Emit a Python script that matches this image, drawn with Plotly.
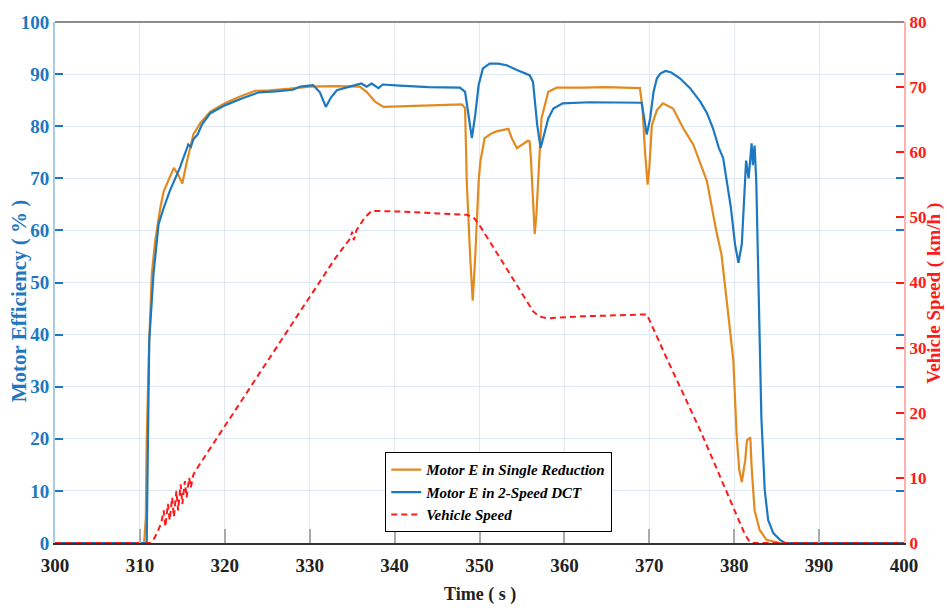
import plotly.graph_objects as go

# ---------------- data ----------------
t_single = [300, 310.5, 310.7, 310.8, 311.1, 311.4, 311.8, 312.4, 312.8, 313.5, 314.0, 314.5, 315.0,
            315.5, 316.3, 317.1, 318.3, 320.0, 321.8, 323.6, 325.3, 327.7, 330.0, 332.8, 335.9,
            336.7, 337.7, 338.7, 341.0, 344.6, 347.9, 348.3, 348.5, 348.9, 349.2, 349.5, 349.9,
            350.1, 350.6, 351.4, 352.0, 353.4, 353.8, 354.4, 355.0, 355.7, 355.9, 356.05, 356.3,
            356.5, 356.7, 356.9, 357.3, 358.1, 359.1, 362.0, 365.0, 368.9, 369.2, 369.5, 369.8,
            370.0, 370.3, 370.9, 371.6, 372.8, 374.0, 375.2, 376.4, 376.8, 377.9, 378.5, 379.3,
            379.9, 380.3, 380.6, 380.9, 381.3, 381.5, 381.9, 382.05, 382.4, 383.0, 383.8, 385.4, 400]
e_single = [0, 0, 5, 19.7, 38.8, 51.6, 58.0, 64.3, 67.5, 70.0, 72.0, 70.7, 69.0,
            73.0, 78.4, 80.6, 82.8, 84.4, 85.7, 86.8, 86.9, 87.2, 87.6, 87.7, 87.6,
            86.6, 84.7, 83.7, 83.8, 84.1, 84.2, 83.5, 69.4, 55.0, 46.5, 55.0, 69.4,
            73.2, 77.7, 78.6, 79.0, 79.5, 77.7, 75.8, 76.4, 77.2, 77.1, 74.0, 66.0,
            59.3, 63.0, 69.4, 81.5, 86.6, 87.4, 87.4, 87.5, 87.3, 83.4, 75.0, 68.8,
            72.0, 80.2, 83.1, 84.4, 83.4, 79.6, 76.4, 71.3, 69.4, 59.8, 55.4, 43.9,
            35.0, 20.3, 14.0, 11.7, 15.9, 19.7, 20.3, 14.6, 6.3, 2.5, 0.6, 0, 0]

t_dct = [300, 310.8, 310.95, 311.1, 311.6, 312.2, 312.8, 313.5, 314.7, 315.3, 315.7, 316.0,
         316.3, 316.8, 317.3, 318.3, 320.0, 322.0, 324.0, 326.0, 328.0, 328.9, 330.4, 331.2,
         331.9, 332.5, 333.2, 334.7, 336.1, 336.7, 337.3, 338.1, 338.6, 340.6, 344.0, 347.7,
         348.3, 348.7, 349.1, 349.5, 349.9, 350.4, 351.2, 352.2, 353.2, 354.4, 355.9, 356.3,
         356.8, 357.2, 357.5, 358.1, 358.7, 359.8, 363.0, 366.0, 369.1, 369.4, 369.7, 370.1,
         370.5, 370.9, 371.3, 371.9, 372.6, 373.6, 374.8, 376.0, 376.8, 377.5, 378.2, 378.7,
         379.1, 379.6, 380.1, 380.5, 380.9, 381.2, 381.4, 381.7, 382.05, 382.2, 382.4, 382.6,
         382.8, 383.0, 383.2, 383.6, 384.0, 384.6, 385.4, 386.0, 400]
e_dct = [0, 0, 19.7, 38.8, 51.6, 61.2, 64.3, 67.5, 72.0, 74.5, 76.5, 76.0,
         77.5, 78.4, 80.3, 82.5, 84.0, 85.3, 86.5, 86.7, 87.0, 87.6, 87.9, 86.5,
         83.7, 85.5, 86.9, 87.6, 88.2, 87.6, 88.2, 87.3, 88.0, 87.8, 87.5, 87.4,
         86.6, 82.2, 77.7, 82.2, 87.9, 91.1, 92.0, 92.0, 91.7, 90.8, 89.8, 88.5,
         80.2, 75.8, 77.7, 81.5, 83.4, 84.4, 84.6, 84.5, 84.5, 81.5, 78.4, 81.5,
         86.6, 89.2, 90.1, 90.6, 90.3, 89.2, 87.3, 84.7, 82.5, 79.6, 75.8, 73.9,
         69.4, 64.5, 57.3, 53.8, 57.4, 65.6, 73.4, 70.0, 76.7, 72.5, 76.3, 69.4,
         56.0, 36.9, 24.1, 10.1, 4.4, 1.9, 0.6, 0, 0]

t_speed = [300, 311.2, 311.6, 312.0, 312.5, 312.8, 313.0, 313.3, 313.5, 313.8, 314.0, 314.3,
           314.5, 314.8, 315.0, 315.3, 315.5, 315.8, 316.0, 316.3, 317.0, 319.4, 325.0, 328.9,
           333.0, 334.8, 335.0, 335.2, 335.5, 336.5, 337.3, 338.5, 340.6, 345.0, 348.5, 349.3,
           349.9, 352.4, 356.3, 357.0, 358.0, 362.0, 366.0, 369.7, 370.1, 372.0, 376.0, 381.2,
           381.8, 382.0, 400]
v_speed = [0, 0, 0.5, 1.5, 3.0, 5.0, 2.5, 6.0, 3.5, 7.0, 4.0, 8.0,
           5.0, 9.0, 6.0, 9.5, 7.0, 10.0, 8.5, 10.5, 12.0, 16.8, 27.9, 35.6,
           43.7, 46.8, 47.8, 46.5, 48.0, 50.0, 51.0, 51.0, 50.9, 50.6, 50.4, 50.0,
           49.0, 43.8, 35.6, 34.8, 34.5, 34.8, 35.0, 35.1, 34.0, 28.5, 17.3, 1.5,
           0.2, 0, 0]

x_ticks = [300, 310, 320, 330, 340, 350, 360, 370, 380, 390, 400]
eff_ticks = [0, 10, 20, 30, 40, 50, 60, 70, 80, 90, 100]
speed_ticks = [0, 10, 20, 30, 40, 50, 60, 70, 80]

# ---------------- style ----------------
ORANGE = "#E38A1E"
BLUE = "#1C78C0"
RED = "#FF1A1A"
SERIF = "Liberation Serif"

fig = go.Figure()
fig.add_trace(go.Scatter(x=t_single, y=e_single, mode="lines", name="Motor E in Single Reduction",
                         line=dict(color=ORANGE, width=2.2)))
fig.add_trace(go.Scatter(x=t_dct, y=e_dct, mode="lines", name="Motor E in 2-Speed DCT",
                         line=dict(color=BLUE, width=2.2)))
fig.add_trace(go.Scatter(x=t_speed, y=v_speed, mode="lines", name="Vehicle Speed", yaxis="y2",
                         line=dict(color=RED, width=2, dash="6px,4px")))

fig.update_layout(
    width=947, height=608,
    margin=dict(l=55, r=43, t=20, b=65),
    paper_bgcolor="white", plot_bgcolor="white",
    showlegend=True,
    legend=dict(x=0.389, y=0.174, xanchor="left", yanchor="top",
                bgcolor="white", bordercolor="black", borderwidth=1,
                font=dict(family=SERIF, size=15, color="black", style="italic", weight="bold"),
                tracegroupgap=0, itemwidth=30),
    xaxis=dict(range=[300, 400], tickvals=x_ticks, showgrid=True, gridcolor="#e3e8ef", gridwidth=1,
               ticks="inside", ticklen=14, tickcolor="#aaaaaa", tickwidth=1.5,
               showline=True, linecolor="#333333", linewidth=2, zeroline=False,
               ticklabelstandoff=4,
               tickfont=dict(family=SERIF, size=19, color="#222222", weight="bold")),
    yaxis=dict(range=[0, 100], tickvals=eff_ticks, showgrid=True, gridcolor="#dde9f5", gridwidth=1,
               ticks="inside", ticklen=8, tickcolor=BLUE, tickwidth=1.5, mirror="ticks",
               showline=True, linecolor="#a9cbe8", linewidth=2, zeroline=False,
               tickfont=dict(family=SERIF, size=19, color=BLUE, weight="bold")),
    yaxis2=dict(range=[0, 80], tickvals=speed_ticks, overlaying="y", side="right", showgrid=False,
                ticks="inside", ticklen=8, tickcolor=RED, tickwidth=1.5,
                showline=True, linecolor="#ffb0b0", linewidth=2, zeroline=False,
                tickfont=dict(family=SERIF, size=17, color=RED, weight="bold")),
    shapes=[dict(type="line", xref="paper", yref="paper", x0=0, x1=1, y0=1, y1=1,
                 line=dict(color="#8c8c8c", width=2))],
    annotations=[
        dict(text="Motor Efficiency ( % )", xref="paper", yref="paper", x=-0.043, y=0.465,
             textangle=-90, showarrow=False, xanchor="center", yanchor="middle",
             font=dict(family=SERIF, size=21, color=BLUE, weight="bold")),
        dict(text="Vehicle Speed ( km/h )", xref="paper", yref="paper", x=1.035, y=0.48,
             textangle=-90, showarrow=False, xanchor="center", yanchor="middle",
             font=dict(family=SERIF, size=19, color=RED, weight="bold")),
        dict(text="Time ( s )", xref="paper", yref="paper", x=0.5, y=-0.098,
             showarrow=False, xanchor="center", yanchor="middle",
             font=dict(family=SERIF, size=18, color="#222222", weight="bold")),
    ],
)

fig.write_html("out.html")
